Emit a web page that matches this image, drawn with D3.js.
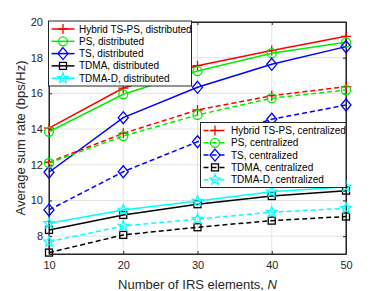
<!DOCTYPE html>
<html>
<head>
<meta charset="utf-8">
<script src="https://cdn.jsdelivr.net/npm/d3@7"></script>
<style>
  body { margin: 0; background: #fff; }
  svg { font-family: "Liberation Sans", Arial, sans-serif; }
</style>
</head>
<body>
<div id="chart"></div>
<script>
const width = 382, height = 291;
const margin = {top: 22, right: 36, bottom: 37, left: 49};

// number of IRS elements
const N = [10, 20, 30, 40, 50];

// distributed
const hybridDist = [14.05, 16.3, 17.55, 18.4, 19.2];
const psDist = [13.85, 15.95, 17.25, 18.25, 18.86];
const tsDist = [11.58, 14.64, 16.34, 17.63, 18.62];
const tdmaDist = [8.35, 9.19, 9.79, 10.25, 10.55];
const tdmadDist = [8.72, 9.47, 9.97, 10.49, 10.77];

// centralized
const hybridCent = [12.14, 13.76, 15.07, 15.87, 16.38];
const psCent = [12.1, 13.61, 14.79, 15.73, 16.19];
const tsCent = [9.47, 11.61, 13.29, 14.55, 15.35];
const tdmaCent = [7.08, 8.07, 8.5, 8.87, 9.1];
const tdmadCent = [7.69, 8.57, 8.96, 9.34, 9.56];

const xTicks = [10, 20, 30, 40, 50];
const yTicks = [8, 10, 12, 14, 16, 18, 20];

const series = [
  {name: "Hybrid TS-PS, distributed", vals: hybridDist, color: "#ff0000", marker: "plus", dash: false},
  {name: "PS, distributed", vals: psDist, color: "#00ee00", marker: "circle", dash: false},
  {name: "TS, distributed", vals: tsDist, color: "#0000ff", marker: "diamond", dash: false},
  {name: "TDMA, distributed", vals: tdmaDist, color: "#000000", marker: "square", dash: false},
  {name: "TDMA-D, distributed", vals: tdmadDist, color: "#00ffff", marker: "star", dash: false},
  {name: "Hybrid TS-PS, centralized", vals: hybridCent, color: "#ff0000", marker: "plus", dash: true},
  {name: "PS, centralized", vals: psCent, color: "#00ee00", marker: "circle", dash: true},
  {name: "TS, centralized", vals: tsCent, color: "#0000ff", marker: "diamond", dash: true},
  {name: "TDMA, centralized", vals: tdmaCent, color: "#000000", marker: "square", dash: true},
  {name: "TDMA-D, centralized", vals: tdmadCent, color: "#00ffff", marker: "star", dash: true}
];

const svg = d3.select("#chart").append("svg")
  .attr("width", width).attr("height", height);

const iw = width - margin.left - margin.right;
const ih = height - margin.top - margin.bottom;
const g = svg.append("g").attr("transform", `translate(${margin.left},${margin.top})`);

const x = d3.scaleLinear().domain([10, 50]).range([0, iw]);
const y = d3.scaleLinear().domain([7, 20]).range([ih, 0]);

// grid
g.append("g").selectAll("line").data(xTicks).join("line")
  .attr("x1", d => x(d)).attr("x2", d => x(d)).attr("y1", 0).attr("y2", ih)
  .attr("stroke", "#e3e3e3").attr("stroke-width", 1);
g.append("g").selectAll("line").data(yTicks).join("line")
  .attr("x1", 0).attr("x2", iw).attr("y1", d => y(d)).attr("y2", d => y(d))
  .attr("stroke", "#e3e3e3").attr("stroke-width", 1);

// axes
g.append("g").attr("transform", `translate(0,${ih})`)
  .call(d3.axisBottom(x).tickValues(xTicks).tickSizeInner(-3).tickSizeOuter(0).tickPadding(7));
g.append("g")
  .call(d3.axisLeft(y).tickValues(yTicks).tickSizeInner(-3).tickSizeOuter(0).tickPadding(6));
g.append("g").call(d3.axisTop(x).tickValues(xTicks).tickSizeInner(-3).tickSizeOuter(0).tickFormat(""));
g.append("g").attr("transform", `translate(${iw},0)`)
  .call(d3.axisRight(y).tickValues(yTicks).tickSizeInner(-3).tickSizeOuter(0).tickFormat(""));
g.selectAll(".domain").attr("stroke", "#262626");
g.selectAll(".tick line").attr("stroke", "#262626");
g.selectAll(".tick text").attr("font-size", 11).attr("fill", "#262626")
  .attr("font-family", "Liberation Sans, Arial, sans-serif");
g.append("rect").attr("width", iw).attr("height", ih)
  .attr("fill", "none").attr("stroke", "#262626").attr("stroke-width", 1);

// labels
svg.append("text")
  .attr("x", margin.left + iw / 2).attr("y", 288.5)
  .attr("text-anchor", "middle").attr("font-size", 13).attr("fill", "#262626")
  .html('Number of IRS elements, <tspan font-style="italic">N</tspan>');
svg.append("text")
  .attr("transform", `translate(25,${margin.top + ih / 2}) rotate(-90)`)
  .attr("text-anchor", "middle").attr("font-size", 13).attr("fill", "#262626")
  .text("Average sum rate (bps/Hz)");

function drawMarker(sel, type, color) {
  const s = 5;
  if (type === "plus") {
    sel.append("path").attr("d", `M${-s},0H${s}M0,${-s}V${s}`)
      .attr("stroke", color).attr("stroke-width", 1.3).attr("fill", "none");
  } else if (type === "circle") {
    sel.append("circle").attr("r", 4.5)
      .attr("stroke", color).attr("stroke-width", 1.3).attr("fill", "none");
  } else if (type === "diamond") {
    sel.append("path").attr("d", `M0,${-s - 1}L${s},0L0,${s + 1}L${-s},0Z`)
      .attr("stroke", color).attr("stroke-width", 1.3).attr("fill", "none");
  } else if (type === "square") {
    sel.append("rect").attr("x", -3.5).attr("y", -3.5).attr("width", 7).attr("height", 7)
      .attr("stroke", color).attr("stroke-width", 1.3).attr("fill", "none");
  } else if (type === "star") {
    const pts = [];
    for (let i = 0; i < 10; i++) {
      const r = i % 2 === 0 ? 5.5 : 2.3;
      const a = -Math.PI / 2 + i * Math.PI / 5;
      pts.push([r * Math.cos(a), r * Math.sin(a)]);
    }
    sel.append("path").attr("d", "M" + pts.map(p => p.join(",")).join("L") + "Z")
      .attr("stroke", color).attr("stroke-width", 1.2).attr("fill", "none");
  }
}

const line = d3.line().x((d, i) => x(N[i])).y(d => y(d));

series.forEach(s => {
  const sg = g.append("g");
  sg.append("path").datum(s.vals).attr("d", line)
    .attr("fill", "none").attr("stroke", s.color).attr("stroke-width", 1.5)
    .attr("stroke-dasharray", s.dash ? "5,3" : null);
  s.vals.forEach((v, i) => {
    const m = sg.append("g").attr("transform", `translate(${x(N[i])},${y(v)})`);
    drawMarker(m, s.marker, s.color);
  });
});

// legends
function legend(items, x0, y0, w, h) {
  const lg = svg.append("g").attr("transform", `translate(${x0},${y0})`);
  lg.append("rect").attr("width", w).attr("height", h)
    .attr("fill", "#fff").attr("stroke", "#262626").attr("stroke-width", 1);
  items.forEach((s, i) => {
    const yy = 8 + i * 12.3;
    lg.append("line").attr("x1", 3).attr("x2", 26).attr("y1", yy).attr("y2", yy)
      .attr("stroke", s.color).attr("stroke-width", 1.5)
      .attr("stroke-dasharray", s.dash ? "5,3" : null);
    const m = lg.append("g").attr("transform", `translate(14.5,${yy})`);
    drawMarker(m, s.marker, s.color);
    lg.append("text").attr("x", 30.5).attr("y", yy).attr("dy", "0.35em")
      .attr("font-size", 10).attr("fill", "#000").text(s.name);
  });
}
legend(series.slice(0, 5), 48.5, 21, 143, 65);
legend(series.slice(5), 200.5, 122.5, 145.5, 65);
</script>
</body>
</html>
